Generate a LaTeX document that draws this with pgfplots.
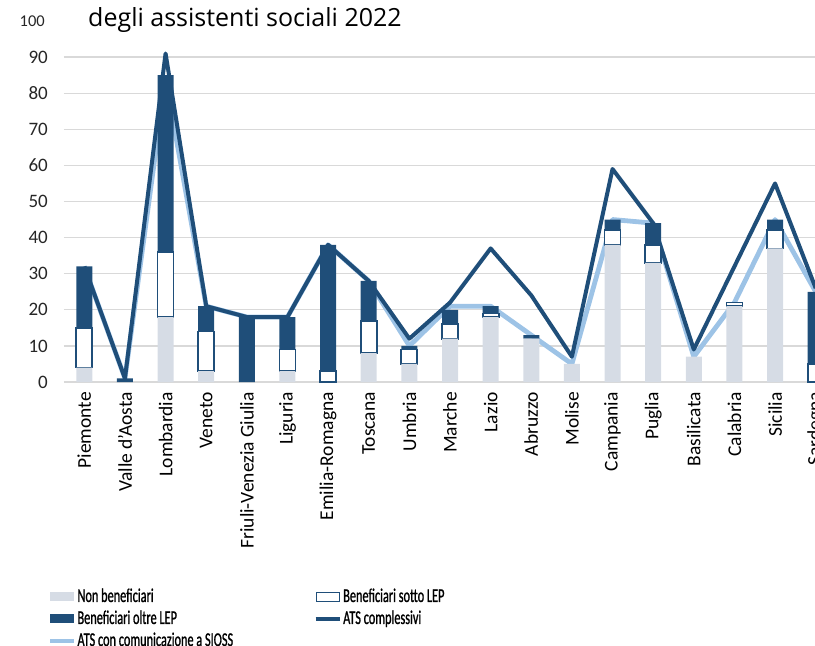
\documentclass[border=0pt]{standalone}
\usepackage{fontspec}
\setmainfont{Carlito}
\newfontfamily\titlefont{Open Sans}
\newfontfamily\legfont[FakeStretch=0.63,FakeBold=1]{Carlito}
\usepackage{pgfplots}
\usepackage{pgfplotstable}
\pgfplotsset{compat=1.18}
\definecolor{dkblue}{RGB}{31,78,121}
\definecolor{ltblue}{RGB}{157,195,230}
\definecolor{bargray}{RGB}{214,220,229}
\definecolor{gridgray}{RGB}{217,217,217}
\definecolor{txt}{RGB}{38,38,38}

\pgfplotstableread{
x Non Sotto Oltre ATS SIOSS
0 4 11 17 32 32
1 0 0 1 1 1
2 18 18 49 91 84
3 3 11 7 21 21
4 0 0 18 18 18
5 3 6 9 18 18
6 0 3 35 38 38
7 8 9 11 28 28
8 5 4 1 12 10
9 12 4 4 22 21
10 18 1 2 37 21
11 12 0 1 24 13
12 5 0 0 7 5
13 38 4 3 59 45
14 33 5 6 44 44
15 7 0 0 9 7
16 21 1 0 32 22
17 37 5 3 55 45
18 0 5 20 26 25
}\datatable

\begin{document}
\begin{tikzpicture}[x=1pt,y=1pt]
\clip (0,0) rectangle (815,646);
\begin{axis}[
  at={(64pt,264pt)}, anchor=south west,
  scale only axis, width=772pt, height=361pt,
  xmin=-0.5, xmax=18.5, ymin=0, ymax=100,
  ybar stacked, bar width=16pt,
  xtick={0,...,18},
  xticklabels={Piemonte,Valle d'Aosta,Lombardia,Veneto,Friuli-Venezia Giulia,Liguria,Emilia-Romagna,Toscana,Umbria,Marche,Lazio,Abruzzo,Molise,Campania,Puglia,Basilicata,Calabria,Sicilia,Sardegna},
  ytick={0,10,...,90},
  extra y ticks={100},
  extra y tick style={grid=none, yticklabel style={font=\fontsize{16.5}{16.5}\selectfont, xshift=-3pt}},
  ymajorgrids, major grid style={draw=gridgray, line width=1.2pt},
  axis line style={draw=none},
  major tick length=0pt,
  /pgf/number format/assume math mode=true,
  yticklabel style={font=\fontsize{19}{19}\selectfont, text=txt, anchor=east, inner sep=0pt, xshift=-16pt},
  xticklabel style={font=\fontsize{19.5}{19.5}\selectfont, text=black, rotate=90, anchor=east, inner sep=0pt},
  xticklabel shift=10pt,
  legend columns=2,
  legend cell align=left,
  legend style={
    at={(-0.0207,-0.5720)}, anchor=north west,
    draw=none, fill=none, inner sep=0pt, outer sep=0pt,
    font={\legfont\fontsize{19.5}{19.5}\selectfont},
    row sep=5.5pt,
    nodes={inner xsep=1.5pt, inner ysep=0pt, text height=13.5pt, text depth=3pt, text=black},
    /tikz/every even column/.append style={column sep=79pt},
  },
]
\addplot[fill=bargray, draw=none,
  legend image code/.code={\fill[bargray] (0pt,-4.5pt) rectangle (24pt,4.5pt);}]
  table[x=x,y=Non]{\datatable};
\addlegendentry{Non beneficiari}
\addplot[fill=white, draw=dkblue, line width=1.8pt,
  legend image code/.code={\draw[fill=white, draw=dkblue, line width=1.4pt] (0.7pt,-4.5pt) rectangle (24pt,4.5pt);}]
  table[x=x,y=Sotto]{\datatable};
\addlegendentry{Beneficiari sotto LEP}
\addplot[fill=dkblue, draw=none,
  legend image code/.code={\fill[dkblue] (0pt,-4.5pt) rectangle (24pt,4.5pt);}]
  table[x=x,y=Oltre]{\datatable};
\addlegendentry{Beneficiari oltre LEP}
\addplot[stack plots=false, sharp plot, draw=dkblue, line width=4pt, line join=round, no markers,
  legend image code/.code={\draw[dkblue, line width=4pt] (0pt,0pt) -- (24pt,0pt);}]
  table[x=x,y=ATS]{\datatable};
\addlegendentry{ATS complessivi}
\addplot[stack plots=false, sharp plot, draw=ltblue, line width=4.8pt, line join=round, no markers,
  legend image code/.code={\draw[ltblue, line width=4pt] (0pt,0pt) -- (24pt,0pt);}]
  table[x=x,y=SIOSS]{\datatable};
\addlegendentry{ATS con comunicazione a SIOSS}
\end{axis}
\node[anchor=base west, font={\titlefont\fontsize{25}{25}\selectfont}, text=black, inner sep=0pt] at (88,619) {degli assistenti sociali 2022};
\end{tikzpicture}
\end{document}
